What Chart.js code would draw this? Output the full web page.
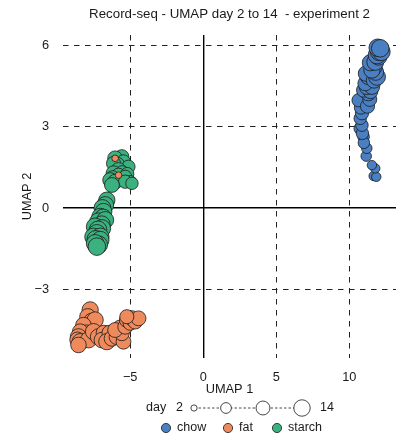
<!DOCTYPE html>
<html>
<head>
<meta charset="utf-8">
<script src="https://cdn.jsdelivr.net/npm/chart.js@4"></script>
<style>
  html, body { margin: 0; padding: 0; background: #fff; }
  canvas { display: block; }
</style>
</head>
<body>
<canvas id="umap" width="414" height="440"></canvas>
<script>
// UMAP embedding per diet, point size = sampling day
const chowX   = [11.67, 11.85, 11.78, 11.55, 11.16, 11.20, 10.98, 11.00, 10.75, 10.90, 10.87, 10.75, 10.87, 10.80, 11.10, 10.64, 11.25, 11.40, 11.30, 10.98, 11.45, 11.20, 11.55, 11.10, 11.30, 11.15, 11.70, 11.90, 11.80, 11.70, 11.55, 11.45, 11.78, 12.00, 11.90, 12.05, 12.20, 11.95, 12.12];
const chowY   = [1.18, 1.15, 1.46, 1.58, 1.91, 2.20, 2.62, 2.40, 2.93, 2.75, 3.05, 3.30, 3.49, 3.70, 3.91, 3.97, 3.75, 4.00, 4.22, 4.34, 4.30, 4.45, 4.47, 4.59, 4.83, 4.95, 4.70, 4.83, 5.00, 5.20, 5.08, 5.35, 5.38, 5.57, 5.63, 5.75, 5.75, 5.90, 5.88];
const chowDay = [4, 4, 4, 4, 5, 5, 6, 6, 7, 7, 7, 7, 8, 8, 8, 8, 9, 9, 10, 9, 10, 10, 11, 10, 11, 11, 11, 13, 12, 12, 12, 12, 13, 13, 14, 14, 14, 14, 14];

const fatX   = [-6.03, -5.80, -7.74, -7.90, -7.62, -7.40, -8.20, -8.00, -8.42, -8.54, -8.60, -8.42, -7.85, -8.54, -7.51, -7.17, -6.80, -6.94, -6.40, -6.60, -6.25, -5.91, -5.70, -5.46, -5.57, -6.03, -5.34, -5.23, -5.00, -4.90, -4.66, -4.43, -5.23];
const fatY   = [1.83, 1.21, -3.75, -4.00, -4.18, -4.12, -4.31, -4.60, -4.55, -4.74, -4.85, -4.92, -4.85, -5.04, -4.55, -4.74, -4.60, -4.86, -4.60, -4.92, -4.80, -4.74, -4.40, -4.92, -4.61, -4.49, -4.37, -4.12, -4.24, -4.05, -4.18, -4.06, -4.00];
const fatDay = [2, 2, 12, 12, 13, 12, 11, 12, 11, 12, 11, 12, 12, 11, 12, 12, 11, 11, 11, 12, 11, 11, 10, 10, 10, 10, 10, 10, 9, 10, 10, 10, 9];

const starchX   = [-5.57, -6.03, -5.46, -5.90, -6.14, -5.12, -5.80, -5.55, -6.14, -5.80, -5.20, -5.34, -6.20, -6.37, -6.03, -5.00, -5.34, -6.25, -4.88, -6.60, -6.71, -6.90, -6.83, -7.05, -6.85, -7.17, -6.71, -6.95, -7.40, -6.94, -7.20, -7.28, -7.51, -7.05, -7.35, -7.05, -7.15, -7.40, -7.28];
const starchY   = [1.89, 1.83, 1.70, 1.60, 1.64, 1.52, 1.40, 1.30, 1.28, 1.21, 1.25, 1.15, 1.10, 1.03, 0.97, 0.97, 0.97, 0.85, 0.91, 0.29, 0.11, 0.00, -0.14, -0.32, -0.35, -0.50, -0.44, -0.60, -0.69, -0.75, -0.80, -0.93, -1.06, -1.06, -1.15, -1.18, -1.35, -1.30, -1.42];
const starchDay = [9, 10, 9, 10, 9, 8, 10, 9, 10, 9, 8, 8, 10, 10, 10, 7, 8, 10, 7, 12, 13, 13, 13, 13, 13, 14, 13, 13, 14, 14, 14, 14, 14, 14, 14, 14, 14, 14, 14];

const xTicks = [-5, 0, 5, 10];
const yTicks = [-3, 0, 3, 6];
const legendDays = [2, 6, 10, 14];

const COLORS = { chow: "#4a7fc1", fat: "#ee8a5c", starch: "#3bb17f" };
const FONT = "'Liberation Sans', Arial, sans-serif";
const TEXT = "#1a1a1a";
const TITLE = "Record-seq - UMAP day 2 to 14  - experiment 2";

const dayRadius = (d) => 2.35 * Math.sqrt(d);
const fmt = (v) => String(v).replace("-", "\u2212");

function series(label, xs, ys, days, color, order) {
  return {
    label,
    order,
    data: xs.map((x, i) => ({ x, y: ys[i] })),
    backgroundColor: color,
    borderColor: "#1b1b1b",
    borderWidth: 0.8,
    pointRadius: (ctx) => dayRadius(days[ctx.dataIndex]),
    pointHoverRadius: (ctx) => dayRadius(days[ctx.dataIndex]),
  };
}

// title centred on the plot panel, size + colour legend under the x axis title
const decorPlugin = {
  id: "umapDecor",
  afterDraw(chart) {
    const c = chart.ctx;
    const area = chart.chartArea;
    c.save();
    c.fillStyle = TEXT;
    c.textBaseline = "middle";
    c.textAlign = "center";
    c.font = "13.3px " + FONT;
    c.fillText(TITLE, (area.left + area.right) / 2, 14);

    c.font = "12.5px " + FONT;
    c.textAlign = "left";
    const y1 = 408;
    c.fillText("day", 146, y1);
    c.fillText("2", 176, y1);
    const cx = [194, 226, 263, 302];
    c.strokeStyle = "#1b1b1b";
    c.lineWidth = 0.8;
    c.setLineDash([2.5, 2]);
    c.beginPath();
    c.moveTo(cx[0], y1);
    c.lineTo(cx[cx.length - 1], y1);
    c.stroke();
    c.setLineDash([]);
    legendDays.forEach((d, i) => {
      c.beginPath();
      c.arc(cx[i], y1, 2.2 * Math.sqrt(d), 0, Math.PI * 2);
      c.fillStyle = "#fff";
      c.fill();
      c.stroke();
    });
    c.fillStyle = TEXT;
    c.fillText("14", 320, y1);

    const y2 = 428;
    [["chow", 166], ["fat", 228], ["starch", 277]].forEach(([name, x]) => {
      c.beginPath();
      c.arc(x, y2, 4.6, 0, Math.PI * 2);
      c.fillStyle = COLORS[name];
      c.fill();
      c.stroke();
      c.fillStyle = TEXT;
      c.fillText(name, x + 11, y2);
    });
    c.restore();
  },
};

const gridStyle = {
  color: (ctx) => (ctx.tick && ctx.tick.value === 0 ? "#000" : "#222"),
  lineWidth: (ctx) => (ctx.tick && ctx.tick.value === 0 ? 1.4 : 1),
  drawTicks: false,
};
const borderStyle = {
  display: false,
  dash: (ctx) => (ctx.tick && ctx.tick.value === 0 ? [] : [5.5, 5.5]),
};

Chart.defaults.font.family = FONT;
Chart.defaults.color = TEXT;

new Chart(document.getElementById("umap"), {
  type: "scatter",
  data: {
    datasets: [
      series("chow", chowX, chowY, chowDay, COLORS.chow, 2),
      series("fat", fatX, fatY, fatDay, COLORS.fat, 0),
      series("starch", starchX, starchY, starchDay, COLORS.starch, 1),
    ],
  },
  options: {
    responsive: false,
    animation: false,
    events: [],
    layout: { padding: { left: 0, right: 18, top: 35, bottom: 40 } },
    plugins: {
      legend: { display: false },
      tooltip: { enabled: false },
    },
    scales: {
      x: {
        min: -9.6,
        max: 13.2,
        afterBuildTicks: (s) => { s.ticks = xTicks.map((v) => ({ value: v })); },
        ticks: { font: { size: 12.8 }, padding: 12, callback: fmt },
        grid: gridStyle,
        border: borderStyle,
        title: { display: true, text: "UMAP 1", font: { size: 12.8 }, padding: { top: 0, bottom: 3 } },
        afterFit: (s) => { s.height = 42; },
      },
      y: {
        min: -5.52,
        max: 6.37,
        afterBuildTicks: (s) => { s.ticks = yTicks.map((v) => ({ value: v })); },
        ticks: { font: { size: 12.8 }, padding: 14, callback: fmt },
        grid: gridStyle,
        border: borderStyle,
        title: { display: true, text: "UMAP 2", font: { size: 12.8 }, padding: { top: 20, bottom: 0 } },
        afterFit: (s) => { s.width = 63; },
      },
    },
  },
  plugins: [decorPlugin],
});
</script>
</body>
</html>
